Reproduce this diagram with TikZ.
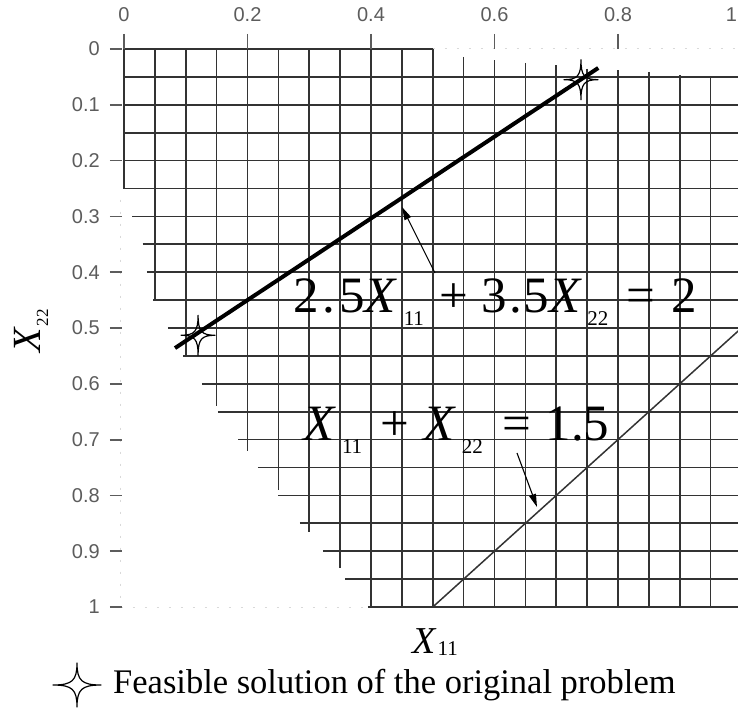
\documentclass[tikz,border=0pt]{standalone}
\usepackage{fontspec}
\setmainfont{Liberation Serif}
\newfontfamily\ticksf{Liberation Sans}
\usetikzlibrary{arrows.meta}

\definecolor{tickgray}{HTML}{5C5C5C}
\newcommand{\lowsub}[2]{\raisebox{-#1}{\fontsize{21}{21}\selectfont #2}}

\tikzset{
  gridline/.style={line width=1.7pt,black!80},
  axisdots/.style={line width=1pt,black!15,dash pattern=on 2pt off 10pt},
  tickmark/.style={line width=1.8pt,tickgray},
  ticklab/.style={font=\ticksf\fontsize{20}{24}\selectfont,text=tickgray,inner sep=0pt},
  eqlab/.style={font=\fontsize{51}{60}\selectfont,inner sep=0pt,anchor=base west},
  axlab/.style={font=\fontsize{38}{44}\selectfont,inner sep=0pt,anchor=base west},
  pointer/.style={line width=1.1pt,-{Triangle[length=13pt,width=7pt]}},
  starline/.style={line width=1.2pt,line join=round},
  feasstar/.pic={
    \draw[starline] (0,1) .. controls (0,0.2) and (0.2,0) .. (1,0)
      .. controls (0.2,0) and (0,-0.2) .. (0,-1)
      .. controls (0,-0.2) and (-0.2,0) .. (-1,0)
      .. controls (-0.2,0) and (0,0.2) .. (0,1) -- cycle;
  }
}

\begin{document}
\begin{tikzpicture}[x=1pt,y=-1pt]
  \useasboundingbox (0,0) rectangle (738,709);

  \begin{scope}[shift={(124,49)},x=617.5pt,y=-558pt]
    % faint axis lines
    \draw[axisdots] (0.5,0) -- (1,0);
    \draw[axisdots] (-0.006,0.27) -- (-0.006,1) -- (0.39,1);
    % rows: height / left end / right end
    \foreach \r/\a/\b in {0/0/0.5, 0.05/0/1, 0.1/0/1, 0.15/0/1, 0.2/0/1,
        0.25/0/1, 0.3/0.013/1, 0.35/0.03/1, 0.4/0.037/1, 0.45/0.047/1,
        0.5/0.071/1, 0.55/0.096/1, 0.6/0.126/1, 0.65/0.152/1, 0.7/0.185/1,
        0.75/0.217/1, 0.8/0.25/1, 0.85/0.285/1, 0.9/0.322/1, 0.95/0.358/1,
        1/0.395/1}
      \draw[gridline] (\a,\r) -- (\b,\r);
    % columns: position / top / bottom
    \foreach \c/\a/\b in {0/0/0.25, 0.05/0/0.45, 0.1/0/0.55, 0.15/0/0.64,
        0.2/0/0.72, 0.25/0/0.79, 0.3/0/0.865, 0.35/0/0.93, 0.4/0/1,
        0.45/0/1, 0.5/0/1, 0.55/0.014/1, 0.6/0.02/1, 0.65/0.025/1,
        0.7/0.029/1, 0.75/0.035/1, 0.8/0.038/1, 0.85/0.041/1, 0.9/0.047/1,
        0.95/0.05/1}
      \draw[gridline] (\c,\a) -- (\c,\b);

    % axes
    \foreach \t in {0,0.2,0.4,0.6,0.8}{
      \draw[tickmark] (\t,-0.027) -- (\t,0);
      \node[ticklab] (top\t) at (\t,-0.061) {\t};
    }
    \node[ticklab,anchor=east] (top1) at (0.993,-0.061) {1};
    \foreach \t in {0,0.1,0.2,0.3,0.4,0.5,0.6,0.7,0.8,0.9,1}{
      \draw[tickmark] (-0.023,\t) -- (-0.004,\t);
      \node[ticklab,anchor=east] (left\t) at (-0.039,\t) {\t};
    }

    % the two constraint lines
    \coordinate (pA) at (0.0826,0.536);
    \coordinate (pB) at (0.768,0.034);
    \draw[line width=4pt] (pA) -- (pB);
    \coordinate (qA) at (0.5,1);
    \coordinate (qB) at (1,0.5);
    \draw[line width=1.5pt,black!80] (qA) -- (qB);

    \coordinate (s1) at (0.12,0.513);
    \coordinate (s2) at (0.74,0.055);
  \end{scope}

  \pic[xscale=17,yscale=20] at (s1) {feasstar};
  \pic[xscale=17,yscale=20] at (s2) {feasstar};

  % equations
  \node[eqlab] (eqA) at (293,312) {2\kern4pt.\kern4pt5\textit{X}\kern6pt\lowsub{13pt}{11}\kern16pt+\kern13pt3\kern2pt.\kern2pt5\textit{X}\kern5pt\lowsub{13pt}{22}\kern18pt=\kern16pt2};
  \node[eqlab] (eqB) at (303,440) {\textit{X}\kern6pt\lowsub{13pt}{11}\kern18pt+\kern15pt\textit{X}\kern5pt\lowsub{13pt}{22}\kern20pt=\kern14pt1.5};

  \coordinate (tailA) at (435,273);
  \coordinate (tipA) at (402,207);
  \draw[pointer] (tailA) -- (tipA);
  \coordinate (tailB) at (517,453);
  \coordinate (tipB) at (537,507);
  \draw[pointer] (tailB) -- (tipB);

  % axis names
  \node[axlab] (xname) at (412,653) {\textit{X}\kern1pt\lowsub{2pt}{11}};
  \node[axlab,rotate=90,font=\fontsize{40}{44}\selectfont] (yname) at (40,353) {\textit{X}\kern1pt\raisebox{-8pt}{\fontsize{17}{17}\selectfont 22}};

  % legend
  \pic[xscale=24,yscale=22] at (77,685) {feasstar};
  \node[anchor=base west,inner sep=0pt,font=\fontsize{34.5}{40}\selectfont] (legend) at (113,693) {Feasible solution of the original problem};
\end{tikzpicture}
\end{document}
